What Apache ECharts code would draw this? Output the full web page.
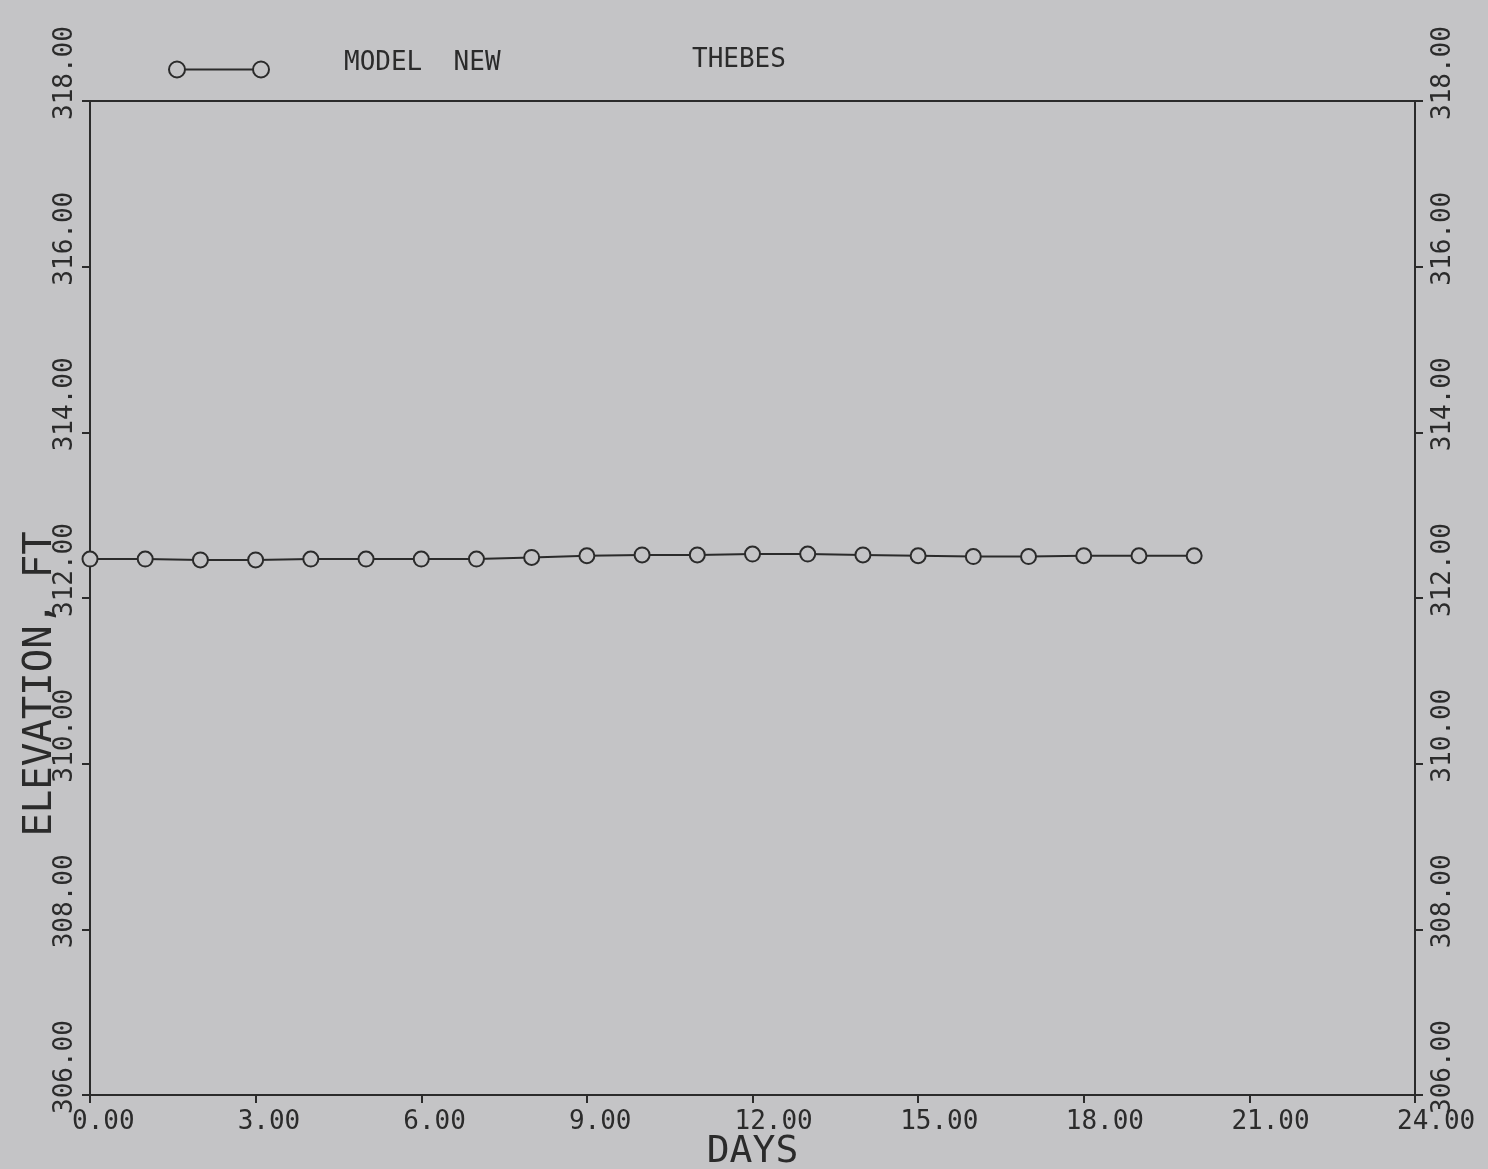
<!DOCTYPE html>
<html>
<head>
<meta charset="utf-8">
<script src="https://cdn.jsdelivr.net/npm/echarts@6/dist/echarts.min.js"></script>
<style>
  html, body { margin: 0; padding: 0; background: #c4c4c6; }
  #chart { width: 1488px; height: 1169px; }
</style>
</head>
<body>
<div id="chart"></div>
<script>
// ---- data ----
const days = [0, 1, 2, 3, 4, 5, 6, 7, 8, 9, 10, 11, 12, 13, 14, 15, 16, 17, 18, 19, 20];
const elevation = [312.47, 312.47, 312.46, 312.46, 312.47, 312.47, 312.47, 312.47, 312.49, 312.51,
                   312.52, 312.52, 312.53, 312.53, 312.52, 312.51, 312.50, 312.50, 312.51, 312.51, 312.51];
const seriesName = 'MODEL  NEW';
const stationName = 'THEBES';
const xTitle = 'DAYS';
const yTitle = 'ELEVATION, FT';
const xRange = { min: 0, max: 24, interval: 3 };
const yRange = { min: 306, max: 318, interval: 2 };

const ink = '#2b2b2b';
const bg = '#c4c4c6';
const mono = 'DejaVu Sans Mono';

const chart = echarts.init(document.getElementById('chart'), null, { renderer: 'canvas' });

const yLabel = (margin) => ({
  rotate: 90,
  align: 'left',
  verticalAlign: 'middle',
  padding: [0, 0, 0, -19],
  margin: margin,
  fontFamily: mono,
  fontSize: 26,
  color: ink,
  formatter: v => v.toFixed(2)
});

const option = {
  backgroundColor: bg,
  animation: false,
  title: {
    text: stationName,
    left: 692,
    top: 47,
    padding: 0,
    textStyle: { fontFamily: mono, fontSize: 26, fontWeight: 'normal', color: ink }
  },
  legend: {
    left: 168,
    top: 50,
    padding: 0,
    itemWidth: 100,
    itemHeight: 16,
    icon: 'path://M0,8 A8,8 0 1,1 16,8 A8,8 0 1,1 0,8 Z M16,8 L84,8 M84,8 A8,8 0 1,1 100,8 A8,8 0 1,1 84,8 Z',
    itemStyle: { color: 'rgba(0,0,0,0)', borderColor: ink, borderWidth: 2 },
    formatter: name => '{a|' + name + '}',
    textStyle: {
      fontFamily: mono, fontSize: 26, color: ink,
      rich: { a: { fontFamily: mono, fontSize: 26, color: ink, padding: [0, 0, 13, 70] } }
    },
    data: [seriesName]
  },
  grid: {
    left: 90, right: 73, top: 101, bottom: 74,
    containLabel: false,
    outerBoundsMode: 'none',
    show: true, borderColor: ink, borderWidth: 2, backgroundColor: 'rgba(0,0,0,0)'
  },
  xAxis: {
    type: 'value',
    min: xRange.min, max: xRange.max, interval: xRange.interval,
    name: xTitle,
    nameLocation: 'middle',
    nameGap: 38,
    nameMoveOverlap: false,
    nameTextStyle: { fontFamily: mono, fontSize: 38, color: ink },
    axisLine: { show: true, lineStyle: { color: ink, width: 2 } },
    axisTick: { show: true, inside: false, length: 8, lineStyle: { color: ink, width: 2 } },
    splitLine: { show: false },
    axisLabel: {
      align: 'left',
      verticalAlign: 'top',
      padding: [0, 0, 0, -18],
      margin: 14,
      fontFamily: mono,
      fontSize: 26,
      color: ink,
      formatter: v => v.toFixed(2)
    }
  },
  yAxis: [
    {
      type: 'value', position: 'left',
      min: yRange.min, max: yRange.max, interval: yRange.interval,
      name: yTitle,
      nameLocation: 'middle',
      nameRotate: 90,
      nameGap: 30,
      nameMoveOverlap: false,
      nameTextStyle: { fontFamily: mono, fontSize: 39, color: ink, padding: [0, 172, 0, 0] },
      axisLine: { show: true, lineStyle: { color: ink, width: 2 } },
      axisTick: { show: true, inside: false, length: 8, lineStyle: { color: ink, width: 2 } },
      splitLine: { show: false },
      axisLabel: yLabel(25)
    },
    {
      type: 'value', position: 'right',
      min: yRange.min, max: yRange.max, interval: yRange.interval,
      axisLine: { show: true, lineStyle: { color: ink, width: 2 } },
      axisTick: { show: true, inside: false, length: 8, lineStyle: { color: ink, width: 2 } },
      splitLine: { show: false },
      axisLabel: yLabel(28)
    }
  ],
  series: [
    {
      name: seriesName,
      type: 'line',
      yAxisIndex: 0,
      data: days.map((d, i) => [d, elevation[i]]),
      symbol: 'circle',
      symbolSize: 15,
      lineStyle: { color: ink, width: 2 },
      itemStyle: { color: bg, borderColor: ink, borderWidth: 2 },
      z: 3
    }
  ]
};

chart.setOption(option);
</script>
</body>
</html>
